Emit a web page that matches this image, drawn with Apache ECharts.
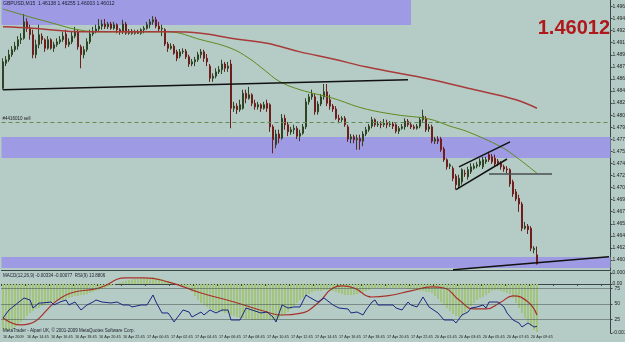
<!DOCTYPE html>
<html>
<head>
<meta charset="utf-8">
<style>
  html, body { margin: 0; padding: 0; background: #b5ccc6; }
  #chart { width: 625px; height: 342px; }
</style>
<script src="https://cdn.jsdelivr.net/npm/echarts@6/dist/echarts.min.js"></script>
</head>
<body>
<div id="chart"></div>
<script>
// GBPUSD M15 bars: [open, close, low, high]
const candles = [
  [1.4847,1.4884,1.4845,1.4889],[1.4882,1.4887,1.4878,1.4892],[1.4887,1.4894,1.4884,1.4901],[1.4894,1.4901,1.4891,1.4906],
  [1.4901,1.4906,1.4898,1.4912],[1.4906,1.4915,1.4901,1.4920],[1.4915,1.4917,1.4909,1.4924],[1.4917,1.4940,1.4915,1.4951],
  [1.4940,1.4931,1.4926,1.4945],[1.4931,1.4922,1.4915,1.4936],[1.4922,1.4894,1.4889,1.4929],[1.4894,1.4908,1.4889,1.4915],
  [1.4908,1.4922,1.4903,1.4936],[1.4920,1.4915,1.4909,1.4924],[1.4915,1.4903,1.4898,1.4917],[1.4903,1.4915,1.4901,1.4920],
  [1.4915,1.4903,1.4901,1.4917],[1.4903,1.4908,1.4898,1.4912],[1.4908,1.4912,1.4905,1.4917],[1.4912,1.4915,1.4909,1.4920],
  [1.4915,1.4920,1.4912,1.4926],[1.4923,1.4908,1.4903,1.4929],[1.4908,1.4912,1.4905,1.4917],[1.4912,1.4920,1.4909,1.4926],
  [1.4920,1.4927,1.4917,1.4933],[1.4926,1.4905,1.4901,1.4929],[1.4905,1.4894,1.4875,1.4908],[1.4894,1.4901,1.4889,1.4906],
  [1.4901,1.4912,1.4898,1.4917],[1.4912,1.4923,1.4909,1.4929],[1.4923,1.4927,1.4920,1.4933],[1.4927,1.4930,1.4924,1.4936],
  [1.4930,1.4934,1.4926,1.4944],[1.4934,1.4937,1.4929,1.4943],[1.4937,1.4933,1.4930,1.4944],[1.4933,1.4937,1.4930,1.4940],
  [1.4937,1.4931,1.4929,1.4940],[1.4931,1.4936,1.4929,1.4940],[1.4936,1.4929,1.4924,1.4938],[1.4929,1.4926,1.4922,1.4931],
  [1.4926,1.4937,1.4923,1.4943],[1.4937,1.4924,1.4922,1.4940],[1.4924,1.4927,1.4922,1.4930],[1.4927,1.4924,1.4922,1.4930],
  [1.4924,1.4926,1.4922,1.4929],[1.4926,1.4924,1.4923,1.4929],[1.4924,1.4929,1.4922,1.4931],[1.4929,1.4931,1.4924,1.4934],
  [1.4931,1.4936,1.4929,1.4940],[1.4936,1.4940,1.4931,1.4944],[1.4940,1.4943,1.4936,1.4948],[1.4943,1.4934,1.4931,1.4947],
  [1.4934,1.4930,1.4927,1.4940],[1.4930,1.4931,1.4920,1.4936],[1.4929,1.4909,1.4906,1.4931],[1.4909,1.4903,1.4898,1.4912],
  [1.4903,1.4906,1.4901,1.4910],[1.4906,1.4896,1.4894,1.4909],[1.4898,1.4889,1.4885,1.4901],[1.4892,1.4898,1.4889,1.4902],
  [1.4898,1.4899,1.4895,1.4903],[1.4899,1.4891,1.4888,1.4902],[1.4891,1.4881,1.4877,1.4894],[1.4881,1.4884,1.4878,1.4888],
  [1.4884,1.4887,1.4878,1.4891],[1.4887,1.4894,1.4884,1.4898],[1.4894,1.4898,1.4889,1.4902],[1.4898,1.4889,1.4884,1.4901],
  [1.4889,1.4884,1.4878,1.4895],[1.4878,1.4861,1.4856,1.4881],[1.4861,1.4864,1.4856,1.4868],[1.4864,1.4870,1.4861,1.4875],
  [1.4870,1.4873,1.4867,1.4878],[1.4873,1.4881,1.4867,1.4887],[1.4881,1.4875,1.4870,1.4884],[1.4875,1.4878,1.4870,1.4884],
  [1.4881,1.4819,1.4791,1.4887],[1.4819,1.4822,1.4814,1.4828],[1.4822,1.4817,1.4811,1.4826],[1.4817,1.4824,1.4814,1.4831],
  [1.4819,1.4840,1.4817,1.4845],[1.4840,1.4833,1.4826,1.4845],[1.4833,1.4838,1.4831,1.4849],[1.4838,1.4826,1.4822,1.4840],
  [1.4826,1.4821,1.4817,1.4831],[1.4821,1.4824,1.4817,1.4828],[1.4824,1.4819,1.4814,1.4826],[1.4819,1.4824,1.4817,1.4828],
  [1.4826,1.4819,1.4814,1.4831],[1.4824,1.4793,1.4786,1.4826],[1.4793,1.4775,1.4756,1.4796],[1.4768,1.4783,1.4763,1.4789],
  [1.4783,1.4777,1.4770,1.4789],[1.4777,1.4805,1.4775,1.4811],[1.4805,1.4796,1.4789,1.4810],[1.4796,1.4786,1.4780,1.4800],
  [1.4786,1.4789,1.4782,1.4793],[1.4789,1.4791,1.4783,1.4796],[1.4791,1.4780,1.4776,1.4794],[1.4780,1.4784,1.4773,1.4789],
  [1.4784,1.4793,1.4782,1.4797],[1.4793,1.4828,1.4790,1.4833],[1.4828,1.4835,1.4824,1.4839],[1.4835,1.4839,1.4831,1.4845],
  [1.4835,1.4814,1.4810,1.4839],[1.4814,1.4825,1.4810,1.4829],[1.4825,1.4835,1.4822,1.4839],[1.4835,1.4842,1.4831,1.4853],
  [1.4842,1.4826,1.4822,1.4853],[1.4831,1.4822,1.4817,1.4838],[1.4822,1.4818,1.4814,1.4825],[1.4818,1.4805,1.4803,1.4822],
  [1.4805,1.4803,1.4798,1.4810],[1.4803,1.4805,1.4800,1.4808],[1.4805,1.4796,1.4793,1.4808],[1.4793,1.4776,1.4772,1.4796],
  [1.4776,1.4779,1.4770,1.4783],[1.4779,1.4775,1.4770,1.4782],[1.4775,1.4777,1.4761,1.4782],[1.4777,1.4773,1.4761,1.4782],
  [1.4773,1.4783,1.4766,1.4787],[1.4783,1.4789,1.4780,1.4793],[1.4789,1.4794,1.4786,1.4797],[1.4794,1.4803,1.4791,1.4807],
  [1.4803,1.4796,1.4793,1.4805],[1.4796,1.4797,1.4793,1.4801],[1.4797,1.4796,1.4791,1.4801],[1.4796,1.4798,1.4793,1.4804],
  [1.4798,1.4796,1.4791,1.4803],[1.4796,1.4797,1.4793,1.4801],[1.4797,1.4794,1.4790,1.4800],[1.4796,1.4787,1.4784,1.4798],
  [1.4787,1.4791,1.4783,1.4794],[1.4791,1.4793,1.4789,1.4797],[1.4793,1.4801,1.4789,1.4805],[1.4801,1.4796,1.4793,1.4804],
  [1.4796,1.4793,1.4790,1.4800],[1.4793,1.4791,1.4789,1.4796],[1.4791,1.4794,1.4789,1.4797],[1.4794,1.4803,1.4791,1.4807],
  [1.4803,1.4808,1.4800,1.4817],[1.4805,1.4789,1.4786,1.4808],[1.4790,1.4793,1.4786,1.4797],[1.4793,1.4773,1.4770,1.4796],
  [1.4773,1.4776,1.4769,1.4779],[1.4776,1.4773,1.4769,1.4780],[1.4776,1.4761,1.4758,1.4779],[1.4762,1.4747,1.4744,1.4765],
  [1.4747,1.4737,1.4733,1.4749],[1.4738,1.4740,1.4734,1.4742],[1.4735,1.4721,1.4717,1.4738],[1.4724,1.4712,1.4705,1.4727],
  [1.4710,1.4721,1.4707,1.4726],[1.4716,1.4733,1.4712,1.4735],[1.4728,1.4727,1.4723,1.4733],[1.4723,1.4733,1.4719,1.4737],
  [1.4730,1.4737,1.4727,1.4742],[1.4735,1.4738,1.4733,1.4742],[1.4738,1.4740,1.4735,1.4744],[1.4740,1.4745,1.4737,1.4749],
  [1.4737,1.4747,1.4734,1.4751],[1.4744,1.4747,1.4741,1.4751],[1.4754,1.4747,1.4744,1.4758],[1.4751,1.4744,1.4741,1.4755],
  [1.4749,1.4741,1.4738,1.4754],[1.4745,1.4742,1.4738,1.4748],[1.4742,1.4737,1.4733,1.4745],[1.4737,1.4734,1.4730,1.4740],
  [1.4734,1.4733,1.4728,1.4738],[1.4733,1.4713,1.4709,1.4735],[1.4716,1.4699,1.4695,1.4719],[1.4702,1.4692,1.4689,1.4706],
  [1.4693,1.4685,1.4674,1.4698],[1.4685,1.4651,1.4647,1.4688],[1.4651,1.4654,1.4649,1.4660],[1.4654,1.4649,1.4643,1.4657],
  [1.4651,1.4623,1.4619,1.4654],[1.4621,1.4623,1.4616,1.4626],[1.46138,1.46012,1.46003,1.46255]
]

// moving averages, [bar, price]
const maFast = [[0,1.4958],[8,1.4948],[15,1.4940],[25,1.4929],[33,1.4926],[49,1.4926],[55,1.4926],[66,1.4915],
  [76,1.4903],[82,1.4889],[87,1.4873],[92,1.4857],[99,1.4845],[110,1.4833],[120,1.4819],[131,1.4810],[142,1.4804],
  [149,1.4794],[155,1.4786],[166,1.4765],[171,1.4751],[178,1.4728]]
const maSlow = [[0,1.4933],[10,1.4931],[27,1.4926],[43,1.4926],[55,1.4926],[66,1.4924],[76,1.4917],[88,1.4910],
  [99,1.4898],[110,1.4888],[121,1.4877],[132,1.4868],[143,1.4859],[155,1.4847],[171,1.4831],[178,1.4819]]

// MACD histogram per bar
const macdHist = [
  -0.00303,-0.00297,-0.00297,-0.00290,-0.00277,-0.00264,-0.00245,-0.00226,-0.00206,-0.00187,
  -0.00174,-0.00161,-0.00155,-0.00142,-0.00135,-0.00129,-0.00123,-0.00116,-0.00110,-0.00103,
  -0.00103,-0.00097,-0.00090,-0.00084,-0.00077,-0.00077,-0.00071,-0.00071,-0.00065,-0.00058,
  -0.00052,-0.00045,-0.00039,-0.00032,-0.00026,-0.00019,-0.00013,-0.00006,0.00003,0.00010,
  0.00016,0.00022,0.00026,0.00029,0.00032,0.00032,0.00034,0.00036,0.00039,0.00039,
  0.00041,0.00039,0.00036,0.00032,0.00026,0.00019,0.00013,0.00006,0.00000,-0.00006,
  -0.00013,-0.00019,-0.00026,-0.00052,-0.00077,-0.00103,-0.00123,-0.00135,-0.00148,-0.00161,
  -0.00168,-0.00174,-0.00181,-0.00181,-0.00187,-0.00187,-0.00200,-0.00206,-0.00213,-0.00219,
  -0.00219,-0.00226,-0.00226,-0.00232,-0.00232,-0.00232,-0.00232,-0.00232,-0.00226,-0.00232,
  -0.00232,-0.00232,-0.00219,-0.00206,-0.00194,-0.00181,-0.00161,-0.00142,-0.00123,-0.00103,
  -0.00090,-0.00077,-0.00065,-0.00052,-0.00045,-0.00045,-0.00045,-0.00039,-0.00039,-0.00039,
  -0.00045,-0.00052,-0.00058,-0.00065,-0.00071,-0.00071,-0.00071,-0.00071,-0.00065,-0.00058,
  -0.00052,-0.00045,-0.00039,-0.00026,-0.00026,-0.00026,-0.00026,-0.00026,-0.00026,-0.00026,
  -0.00026,-0.00026,-0.00026,-0.00026,-0.00026,-0.00032,-0.00032,-0.00039,-0.00039,-0.00045,
  -0.00045,-0.00052,-0.00052,-0.00058,-0.00077,-0.00097,-0.00116,-0.00135,-0.00155,-0.00174,
  -0.00194,-0.00206,-0.00213,-0.00200,-0.00181,-0.00161,-0.00142,-0.00123,-0.00103,-0.00090,
  -0.00084,-0.00071,-0.00058,-0.00045,-0.00039,-0.00039,-0.00045,-0.00052,-0.00058,-0.00065,
  -0.00090,-0.00123,-0.00155,-0.00187,-0.00219,-0.00245,-0.00271,-0.00297,-0.00310
]
// MACD signal, [bar, value]
const macdSignal = [[0,-0.00219],[6,-0.00264],[21,-0.00071],[32,-0.00026],[41,0.00039],[47,0.00039],[55,0.00013],
  [66,-0.00058],[77,-0.00116],[88,-0.00181],[93,-0.00200],[99,-0.00190],[105,-0.00123],[110,-0.00026],[113,-0.00013],
  [117,-0.00026],[123,-0.00084],[128,-0.00077],[136,-0.00045],[143,-0.00019],[147,-0.00026],[152,-0.00103],
  [157,-0.00161],[161,-0.00161],[166,-0.00116],[170,-0.00077],[175,-0.00116],[178,-0.00200]]
// RSI(9), [bar, value]
const rsi = [[0,27.4],[2,40.3],[7,59.7],[9,56.5],[10,43.5],[12,51.6],[13,51.6],[16,53.2],[17,48.4],[19,53.2],
  [21,56.5],[22,48.4],[24,53.2],[26,40.3],[28,48.4],[30,53.2],[31,56.5],[33,53.2],[36,51.6],[38,53.2],[40,48.4],
  [42,48.4],[43,45.2],[46,48.4],[48,48.4],[50,64.5],[51,53.2],[53,35.5],[55,35.5],[56,29.0],[57,21.0],[60,40.3],
  [62,37.1],[63,29.0],[66,37.1],[67,32.3],[69,40.3],[71,35.5],[73,40.3],[75,40.3],[76,24.2],[79,24.2],[81,43.5],
  [83,40.3],[86,35.5],[88,37.1],[90,29.0],[91,21.0],[93,48.4],[95,43.5],[97,45.2],[99,45.2],[101,64.5],[102,61.3],
  [105,53.2],[107,59.7],[110,48.4],[112,43.5],[115,41.9],[116,35.5],[118,37.1],[120,32.3],[121,40.3],[123,53.2],
  [124,56.5],[125,48.4],[127,48.4],[130,48.4],[131,43.5],[133,40.3],[135,53.2],[136,48.4],[138,45.2],[140,61.3],
  [142,45.2],[145,35.5],[147,24.2],[150,24.2],[151,19.4],[153,32.3],[155,37.1],[156,43.5],[158,45.2],[160,48.4],
  [161,43.5],[162,53.2],[165,53.2],[167,45.2],[168,35.5],[170,24.2],[172,19.4],[173,12.9],[175,19.4],[177,12.9],[178,13.88]]

// price scale labels (right side)
const priceTicks = [1.46066,1.46235,1.46404,1.46573,1.46742,1.46911,1.47080,1.47249,1.47418,1.47587,1.47756,
  1.47925,1.48094,1.48263,1.48432,1.48601,1.48770,1.48939,1.49108,1.49277,1.49446,1.49615]
const macdTicks = [-0.00316, 0, 0.00071]
const rsiLevels = [25, 50, 75]

// zones and drawn lines (price levels)
const zoneTop = [1.49356, 1.49706]
const zoneMid = [1.47494, 1.47788]
const zoneLow = [1.45954, 1.46108]
const sellLevel = 1.47984
const topLevel = 1.49594
const lastPrice = 1.46012

// bar times: 16 Apr 12:45 .. 17 Apr 23:45, then 20 Apr from 01:00; empty space on the right
const TOTAL_SLOTS = 203
const times = []
const pad = n => (n < 10 ? '0' + n : '' + n)
let day = 16, mins = 12 * 60 + 45
for (let i = 0; i < TOTAL_SLOTS; i++) {
  if (i === 141) { day = 20; mins = 60 }
  if (i >= candles.length) { times.push(''); continue }
  times.push(i === 0 ? '16 Apr 2009' : `${day} Apr ${pad(Math.floor(mins / 60))}:${pad(mins % 60)}`)
  mins += 15
  if (mins >= 1440) { mins -= 1440; day++ }
}

const FONT = '"Liberation Sans", Arial, sans-serif'
const chart = echarts.init(document.getElementById('chart'))

chart.setOption({
  backgroundColor: '#b5ccc6',
  animation: false,
  textStyle: { fontFamily: FONT },
  grid: [
    { left: 1.5, width: 609, top: 0, height: 270, containLabel: false, outerBoundsMode: 'none' },
    { left: 1.5, width: 609, top: 272, height: 61, containLabel: false, outerBoundsMode: 'none' }
  ],
  xAxis: [
    {
      type: 'category', gridIndex: 0, data: times, boundaryGap: true,
      axisLine: { show: true, lineStyle: { color: '#3c4646' } },
      axisTick: { show: false }, axisLabel: { show: false }, splitLine: { show: false }
    },
    {
      type: 'category', gridIndex: 1, data: times, boundaryGap: true,
      axisLine: { show: true, lineStyle: { color: '#3c4646' } },
      axisTick: { show: true, length: 2, interval: 7, lineStyle: { color: '#3c4646' } },
      axisLabel: {
        interval: 7, fontSize: 3.8, color: '#222', margin: 2, align: 'left',
        hideOverlap: false, showMinLabel: true
      },
      splitLine: { show: false }
    }
  ],
  yAxis: [
    {
      type: 'value', gridIndex: 0, position: 'right', min: 1.45926, max: 1.49706,
      axisLine: { show: true, lineStyle: { color: '#3c4646' } },
      axisTick: { show: true, length: 2, customValues: priceTicks, lineStyle: { color: '#3c4646' } },
      axisLabel: { customValues: priceTicks, fontSize: 5, color: '#222', margin: 2, formatter: v => v.toFixed(5) },
      splitLine: { show: false }
    },
    {
      type: 'value', gridIndex: 1, position: 'right', min: -0.00316, max: 0.00077,
      axisLine: { show: true, lineStyle: { color: '#3c4646' } },
      axisTick: { show: true, length: 2, customValues: macdTicks, lineStyle: { color: '#3c4646' } },
      axisLabel: {
        customValues: macdTicks, fontSize: 5, color: '#222', margin: 2,
        formatter: v => (v === 0 ? '0.00' : v.toFixed(5))
      },
      splitLine: { show: false }
    },
    {
      type: 'value', gridIndex: 1, position: 'right', min: 3.2, max: 101.6,
      axisLine: { show: false },
      axisTick: { show: true, length: 2, customValues: rsiLevels, lineStyle: { color: '#3c4646' } },
      axisLabel: { customValues: rsiLevels, fontSize: 5, color: '#222', margin: 4 },
      splitLine: { show: false }
    }
  ],
  graphic: [
    { type: 'text', left: 3, top: 1, z: 100, style: { text: 'GBPUSD,M15  1.46138 1.46255 1.46003 1.46012', font: `5px ${FONT}`, fill: '#1c1c2c' } },
    { type: 'text', right: 15, top: 18, z: 100, style: { text: '1.46012', font: `bold 20px ${FONT}`, fill: '#b0181c' } },
    { type: 'text', left: 3, top: 273, z: 100, style: { text: 'MACD(12,26,9) -0.00334 -0.00077  RSI(9) 13.8806', font: `4.5px ${FONT}`, fill: '#1c1c2c' } },
    { type: 'text', left: 3, top: 328, z: 100, style: { text: 'MetaTrader - Alpari UK, © 2001-2009 MetaQuotes Software Corp.', font: `4.5px ${FONT}`, fill: '#1c1c2c' } }
  ],
  series: [
    {
      // supply / demand zones
      type: 'line', xAxisIndex: 0, yAxisIndex: 0, data: [], z: 1, silent: true,
      markArea: {
        silent: true,
        itemStyle: { color: '#9e9be4', opacity: 1 },
        data: [
          [{ yAxis: zoneTop[0] }, { yAxis: zoneTop[1], xAxis: 136 }],
          [{ yAxis: zoneMid[0] }, { yAxis: zoneMid[1] }],
          [{ yAxis: zoneLow[0] }, { yAxis: zoneLow[1] }]
        ]
      }
    },
    {
      name: 'GBPUSD', type: 'candlestick', xAxisIndex: 0, yAxisIndex: 0, z: 3,
      data: candles, barWidth: 2,
      itemStyle: { color: '#5a8a3c', color0: '#c23a35', borderColor: '#2e4424', borderColor0: '#6e1e1c', borderWidth: 1 },
      markLine: {
        silent: true, symbol: 'none', animation: false,
        label: { show: false },
        lineStyle: { color: '#111', width: 1.5, type: 'solid' },
        data: [
          { yAxis: topLevel, lineStyle: { color: '#2e3838', width: 1 } },
          {
            yAxis: sellLevel, lineStyle: { color: '#5f8c50', width: 1, type: [4, 3] },
            label: { show: true, position: 'insideStartTop', formatter: '#4416010 sell', fontSize: 4.5, color: '#222', distance: 1 }
          },
          {
            yAxis: lastPrice, lineStyle: { opacity: 0 },
            label: { show: true, position: 'end', formatter: '1.46012', fontSize: 5, color: '#fff', backgroundColor: '#111', padding: [1, 1, 0, 1], distance: 1 }
          },
          [{ coord: [0, 1.4845] }, { coord: [135, 1.4859] }],
          [{ coord: [152, 1.4737] }, { coord: [169, 1.4772] }],
          [{ coord: [151, 1.4705] }, { coord: [168, 1.4748] }],
          [{ coord: [150, 1.4593] }, { coord: [202, 1.4611] }],
          [{ coord: [162, 1.4728], lineStyle: { color: '#4a4f4f' } }, { coord: [183, 1.4728] }]
        ]
      }
    },
    {
      name: 'MA fast', type: 'line', xAxisIndex: 0, yAxisIndex: 0, z: 4, data: maFast,
      smooth: 0.4, showSymbol: false, lineStyle: { color: '#5f8a1e', width: 1 }
    },
    {
      name: 'MA slow', type: 'line', xAxisIndex: 0, yAxisIndex: 0, z: 4, data: maSlow,
      smooth: 0.4, showSymbol: false, lineStyle: { color: '#a83a3a', width: 1.5 }
    },
    {
      name: 'MACD', type: 'bar', xAxisIndex: 1, yAxisIndex: 1, data: macdHist, barWidth: 2,
      itemStyle: { color: '#a2c47c' }, z: 2
    },
    {
      name: 'Signal', type: 'line', xAxisIndex: 1, yAxisIndex: 1, data: macdSignal, z: 4,
      smooth: 0.5, showSymbol: false, lineStyle: { color: '#a8302a', width: 1.2 }
    },
    {
      name: 'RSI', type: 'line', xAxisIndex: 1, yAxisIndex: 2, data: rsi, z: 5,
      showSymbol: false, lineStyle: { color: '#1a2680', width: 1 },
      markLine: {
        silent: true, symbol: 'none', label: { show: false },
        lineStyle: { color: '#3f4a4a', width: 1, type: 'dotted' },
        data: rsiLevels.map(v => ({ yAxis: v }))
      }
    }
  ]
})
</script>
</body>
</html>
